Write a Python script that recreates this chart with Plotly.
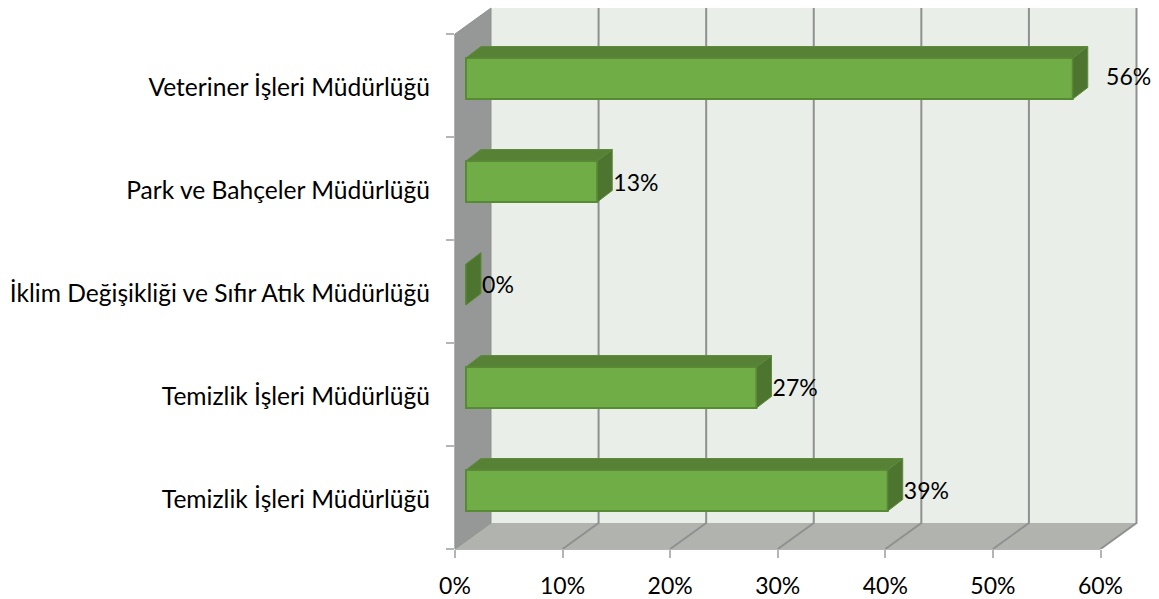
import plotly.graph_objects as go

categories = ["Temizlik İşleri Müdürlüğü", "Temizlik İşleri Müdürlüğü",
              "İklim Değişikliği ve Sıfır Atık Müdürlüğü",
              "Park ve Bahçeler Müdürlüğü", "Veteriner İşleri Müdürlüğü"]
values = [39.2, 27.0, 0.0, 12.2, 56.4]
value_labels = ["39%", "27%", "0%", "13%", "56%"]
label_gaps = [0.1, 0.1, 0.1, 0.1, 1.7]
label_drops = [3, 3, 3, 4, 1]
x_ticks = [0, 10, 20, 30, 40, 50, 60]
x_tick_labels = ["0%", "10%", "20%", "30%", "40%", "50%", "60%"]

FONT = "Lato"
W, H = 1159, 599
X_L, X_60 = 455, 1100.5
Y_B, Y_STEP = 549, 103
PX = (X_60 - X_L) / 60
WALL_DX, WALL_DY = 36 / PX, 26 / Y_STEP
BAR_OFF_X, BAR_OFF_Y = 11 / PX, 7 / Y_STEP
BAR_DX, BAR_DY = 15 / PX, 11.5 / Y_STEP
BAR_H = 41 / Y_STEP
BOTTOM, TOP_AXIS = -0.5, 4.5
XMAX = (W - X_L) / PX
YMAX = BOTTOM + Y_B / Y_STEP
WALL_TOP = BOTTOM + (Y_B - 8) / Y_STEP
TEXT_NUDGE = 2 / Y_STEP

GRID = "#8f9190"
AXIS = "#b4b6b4"


def poly(xs, ys, fill, line=None, width=0):
    path = "M" + " L".join(f"{a},{b}" for a, b in zip(xs, ys)) + " Z"
    return dict(type="path", path=path, xref="x", yref="y", layer="below",
                fillcolor=fill, line=dict(color=line or fill, width=width))


shapes = [
    poly([WALL_DX, WALL_DX + 60, WALL_DX + 60, WALL_DX],
         [WALL_TOP, WALL_TOP, BOTTOM + WALL_DY, BOTTOM + WALL_DY], "#e9eee8"),
    poly([0, WALL_DX, WALL_DX + 60, 60],
         [BOTTOM, BOTTOM + WALL_DY, BOTTOM + WALL_DY, BOTTOM], "#b1b4ae"),
    poly([0, WALL_DX, WALL_DX, 0],
         [TOP_AXIS, WALL_TOP, BOTTOM + WALL_DY, BOTTOM], "#959896", GRID, 1),
]
for v in x_ticks[1:]:
    xs = [v, v + WALL_DX, v + WALL_DX]
    ys = [BOTTOM, BOTTOM + WALL_DY, WALL_TOP]
    shapes.append(dict(type="path", xref="x", yref="y", layer="below",
                       path="M" + " L".join(f"{a},{b}" for a, b in zip(xs, ys)),
                       line=dict(color=GRID, width=2)))
shapes.append(dict(type="line", xref="x", yref="paper", layer="below",
                   x0=0, x1=60, y0=(H - Y_B) / H, y1=(H - Y_B) / H,
                   line=dict(color=AXIS, width=2)))
shapes.append(dict(type="line", xref="paper", yref="y", layer="below",
                   x0=X_L / W, x1=X_L / W, y0=BOTTOM, y1=TOP_AXIS,
                   line=dict(color=AXIS, width=2)))

positions = list(range(len(categories)))
fig = go.Figure()
fig.add_trace(go.Bar(orientation="h", y=[p + BAR_OFF_Y for p in positions], x=values,
                     base=BAR_OFF_X, width=BAR_H, marker=dict(color="#70ad47",
                     line=dict(color="#568a33", width=2)), showlegend=False))

for p, v in zip(positions, values):
    x0 = BAR_OFF_X + v
    yb = p + BAR_OFF_Y - BAR_H / 2
    yt = p + BAR_OFF_Y + BAR_H / 2
    if v > 0:
        fig.add_trace(go.Scatter(
            x=[BAR_OFF_X, BAR_OFF_X + BAR_DX, x0 + BAR_DX, x0, BAR_OFF_X],
            y=[yt, yt + BAR_DY, yt + BAR_DY, yt, yt],
            fill="toself", fillcolor="#578135", mode="lines",
            line=dict(color="#5d8a3b", width=1), showlegend=False, hoverinfo="skip"))
    fig.add_trace(go.Scatter(
        x=[x0, x0 + BAR_DX, x0 + BAR_DX, x0, x0],
        y=[yt, yt + BAR_DY, yb + BAR_DY, yb, yt],
        fill="toself", fillcolor="#4d7530", mode="lines",
        line=dict(color="#5d8a3b", width=1), showlegend=False, hoverinfo="skip"))

fig.add_trace(go.Scatter(
    x=[BAR_OFF_X + v + BAR_DX + g for v, g in zip(values, label_gaps)],
    y=[p + BAR_OFF_Y - d / Y_STEP for p, d in zip(positions, label_drops)],
    text=value_labels, mode="text", textposition="middle right",
    textfont=dict(family=FONT, size=23, color="#000000"),
    showlegend=False, hoverinfo="skip", cliponaxis=False))

fig.update_layout(
    width=W, height=H, margin=dict(l=0, r=0, t=0, b=0),
    paper_bgcolor="white", plot_bgcolor="white", showlegend=False,
    font=dict(family=FONT, size=23, color="#000000"), shapes=shapes,
    xaxis=dict(domain=[X_L / W, 1], range=[0, XMAX], tickmode="array", automargin=False,
               tickvals=x_ticks, ticktext=x_tick_labels, showgrid=False,
               zeroline=False, showline=False, ticks="outside", ticklen=8,
               tickwidth=2, tickcolor=AXIS, ticklabelstandoff=8,
               tickfont=dict(family=FONT, size=23, color="#000000")),
    yaxis=dict(domain=[(H - Y_B) / H, 1], range=[BOTTOM, YMAX], tickmode="array", automargin=False,
               tickvals=[p - TEXT_NUDGE for p in positions], ticktext=categories, showgrid=False,
               zeroline=False, showline=False, ticks="", ticklabelstandoff=24,
               minor=dict(tickmode="array",
                          tickvals=[p - 0.5 for p in positions] + [TOP_AXIS],
                          ticks="outside", ticklen=8, tickwidth=2, tickcolor=AXIS,
                          showgrid=False),
               tickfont=dict(family=FONT, size=24.6, color="#000000")),
)
fig.write_html("out.html", config=dict(displayModeBar=False),
               post_script="document.body.style.margin='0';")
